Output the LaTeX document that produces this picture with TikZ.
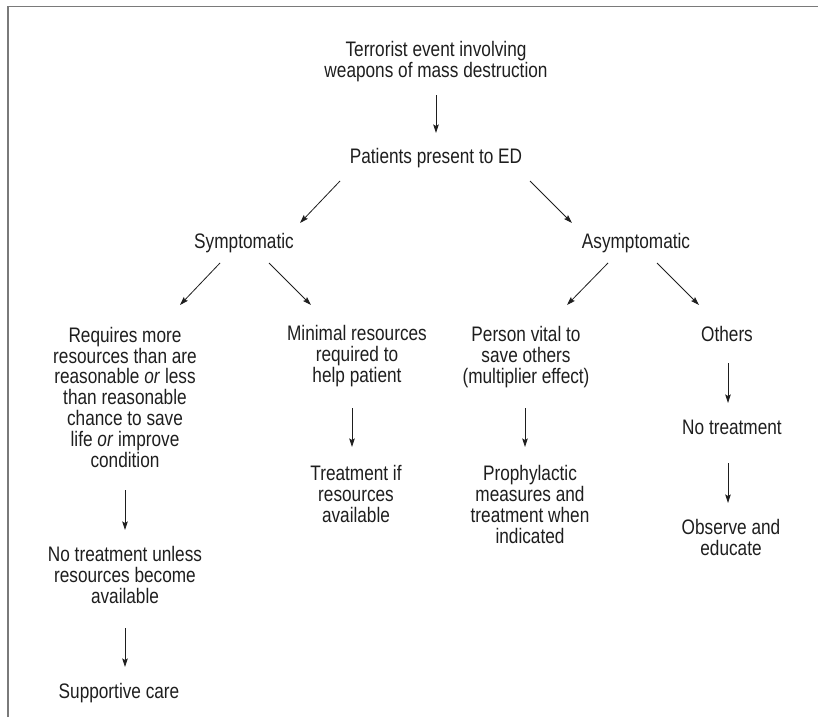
\documentclass[tikz,border=0pt]{standalone}
\usepackage{fontspec}
\setmainfont{Liberation Sans}[FakeStretch=0.82]
\usetikzlibrary{arrows.meta,calc}
\definecolor{txt}{HTML}{1E1E1E}
\definecolor{frame}{HTML}{7A7A7A}
\begin{document}
\begin{tikzpicture}[x=1pt,y=-1pt,
  lbl/.style={anchor=base,align=center,inner sep=0pt,text=txt,
    font=\fontsize{21pt}{20.8pt}\selectfont},
  arr/.style={line width=0.8pt,draw=txt,-{Stealth[length=8.5pt,width=5.5pt,inset=1.5pt]}}]
\useasboundingbox (0,0) rectangle (818,717);
\draw[frame,line width=1.5pt] (8,717) -- (8,6.7) -- (818,6.7);

% nodes are placed by the baseline of their last line
\node[lbl] (title) at (436,77) {Terrorist event involving\\weapons of mass destruction};
\node[lbl] (pat) at (436,163) {Patients present to ED};
\node[lbl] (sym) at (244,248) {Symptomatic};
\node[lbl] (asym) at (636,248) {Asymptomatic};
\node[lbl] (req) at (125,467) {Requires more\\resources than are\\reasonable \textit{or} less\\than reasonable\\chance to save\\life \textit{or} improve\\condition};
\node[lbl] (min) at (357,382.5) {Minimal resources\\required to\\help patient};
\node[lbl] (pers) at (526,383.5) {Person vital to\\save others\\(multiplier effect)};
\node[lbl] (oth) at (727,341) {Others};
\node[lbl] (trt) at (356,522) {Treatment if\\resources\\available};
\node[lbl] (pro) at (530,543) {Prophylactic\\measures and\\treatment when\\indicated};
\node[lbl] (nt) at (732,434) {No treatment};
\node[lbl] (obs) at (731,555) {Observe and\\educate};
\node[lbl] (nore) at (125,603.5) {No treatment unless\\resources become\\available};
\node[lbl] (sup) at (119,698) {Supportive care};

\draw[arr] ($(title.base)+(0,18)$) -- ($(pat.base)+(0,-30)$);
\draw[arr] ($(pat.base)+(-96,18)$) -- ($(sym.base)+(56,-25)$);
\draw[arr] ($(pat.base)+(94,18)$) -- ($(asym.base)+(-64,-25)$);
\draw[arr] ($(sym.base)+(-24,15)$) -- ($(req.base)+(55,-162)$);
\draw[arr] ($(sym.base)+(25,15)$) -- ($(min.base)+(-46,-77.5)$);
\draw[arr] ($(asym.base)+(-28,15)$) -- ($(pers.base)+(41,-78.5)$);
\draw[arr] ($(asym.base)+(21,15)$) -- ($(oth.base)+(-28,-36)$);
\draw[arr] ($(req.base)+(0,23)$) -- ($(nore.base)+(0,-73.5)$);
\draw[arr] ($(nore.base)+(0,24.5)$) -- ($(sup.base)+(6,-31)$);
\draw[arr] ($(min.base)+(-5,25.5)$) -- ($(trt.base)+(-4,-75)$);
\draw[arr] ($(pers.base)+(-1,24.5)$) -- ($(pro.base)+(-5,-96)$);
\draw[arr] ($(oth.base)+(1,22)$) -- ($(nt.base)+(-4,-31)$);
\draw[arr] ($(nt.base)+(-4,29)$) -- ($(obs.base)+(-3,-52)$);
\end{tikzpicture}
\end{document}
